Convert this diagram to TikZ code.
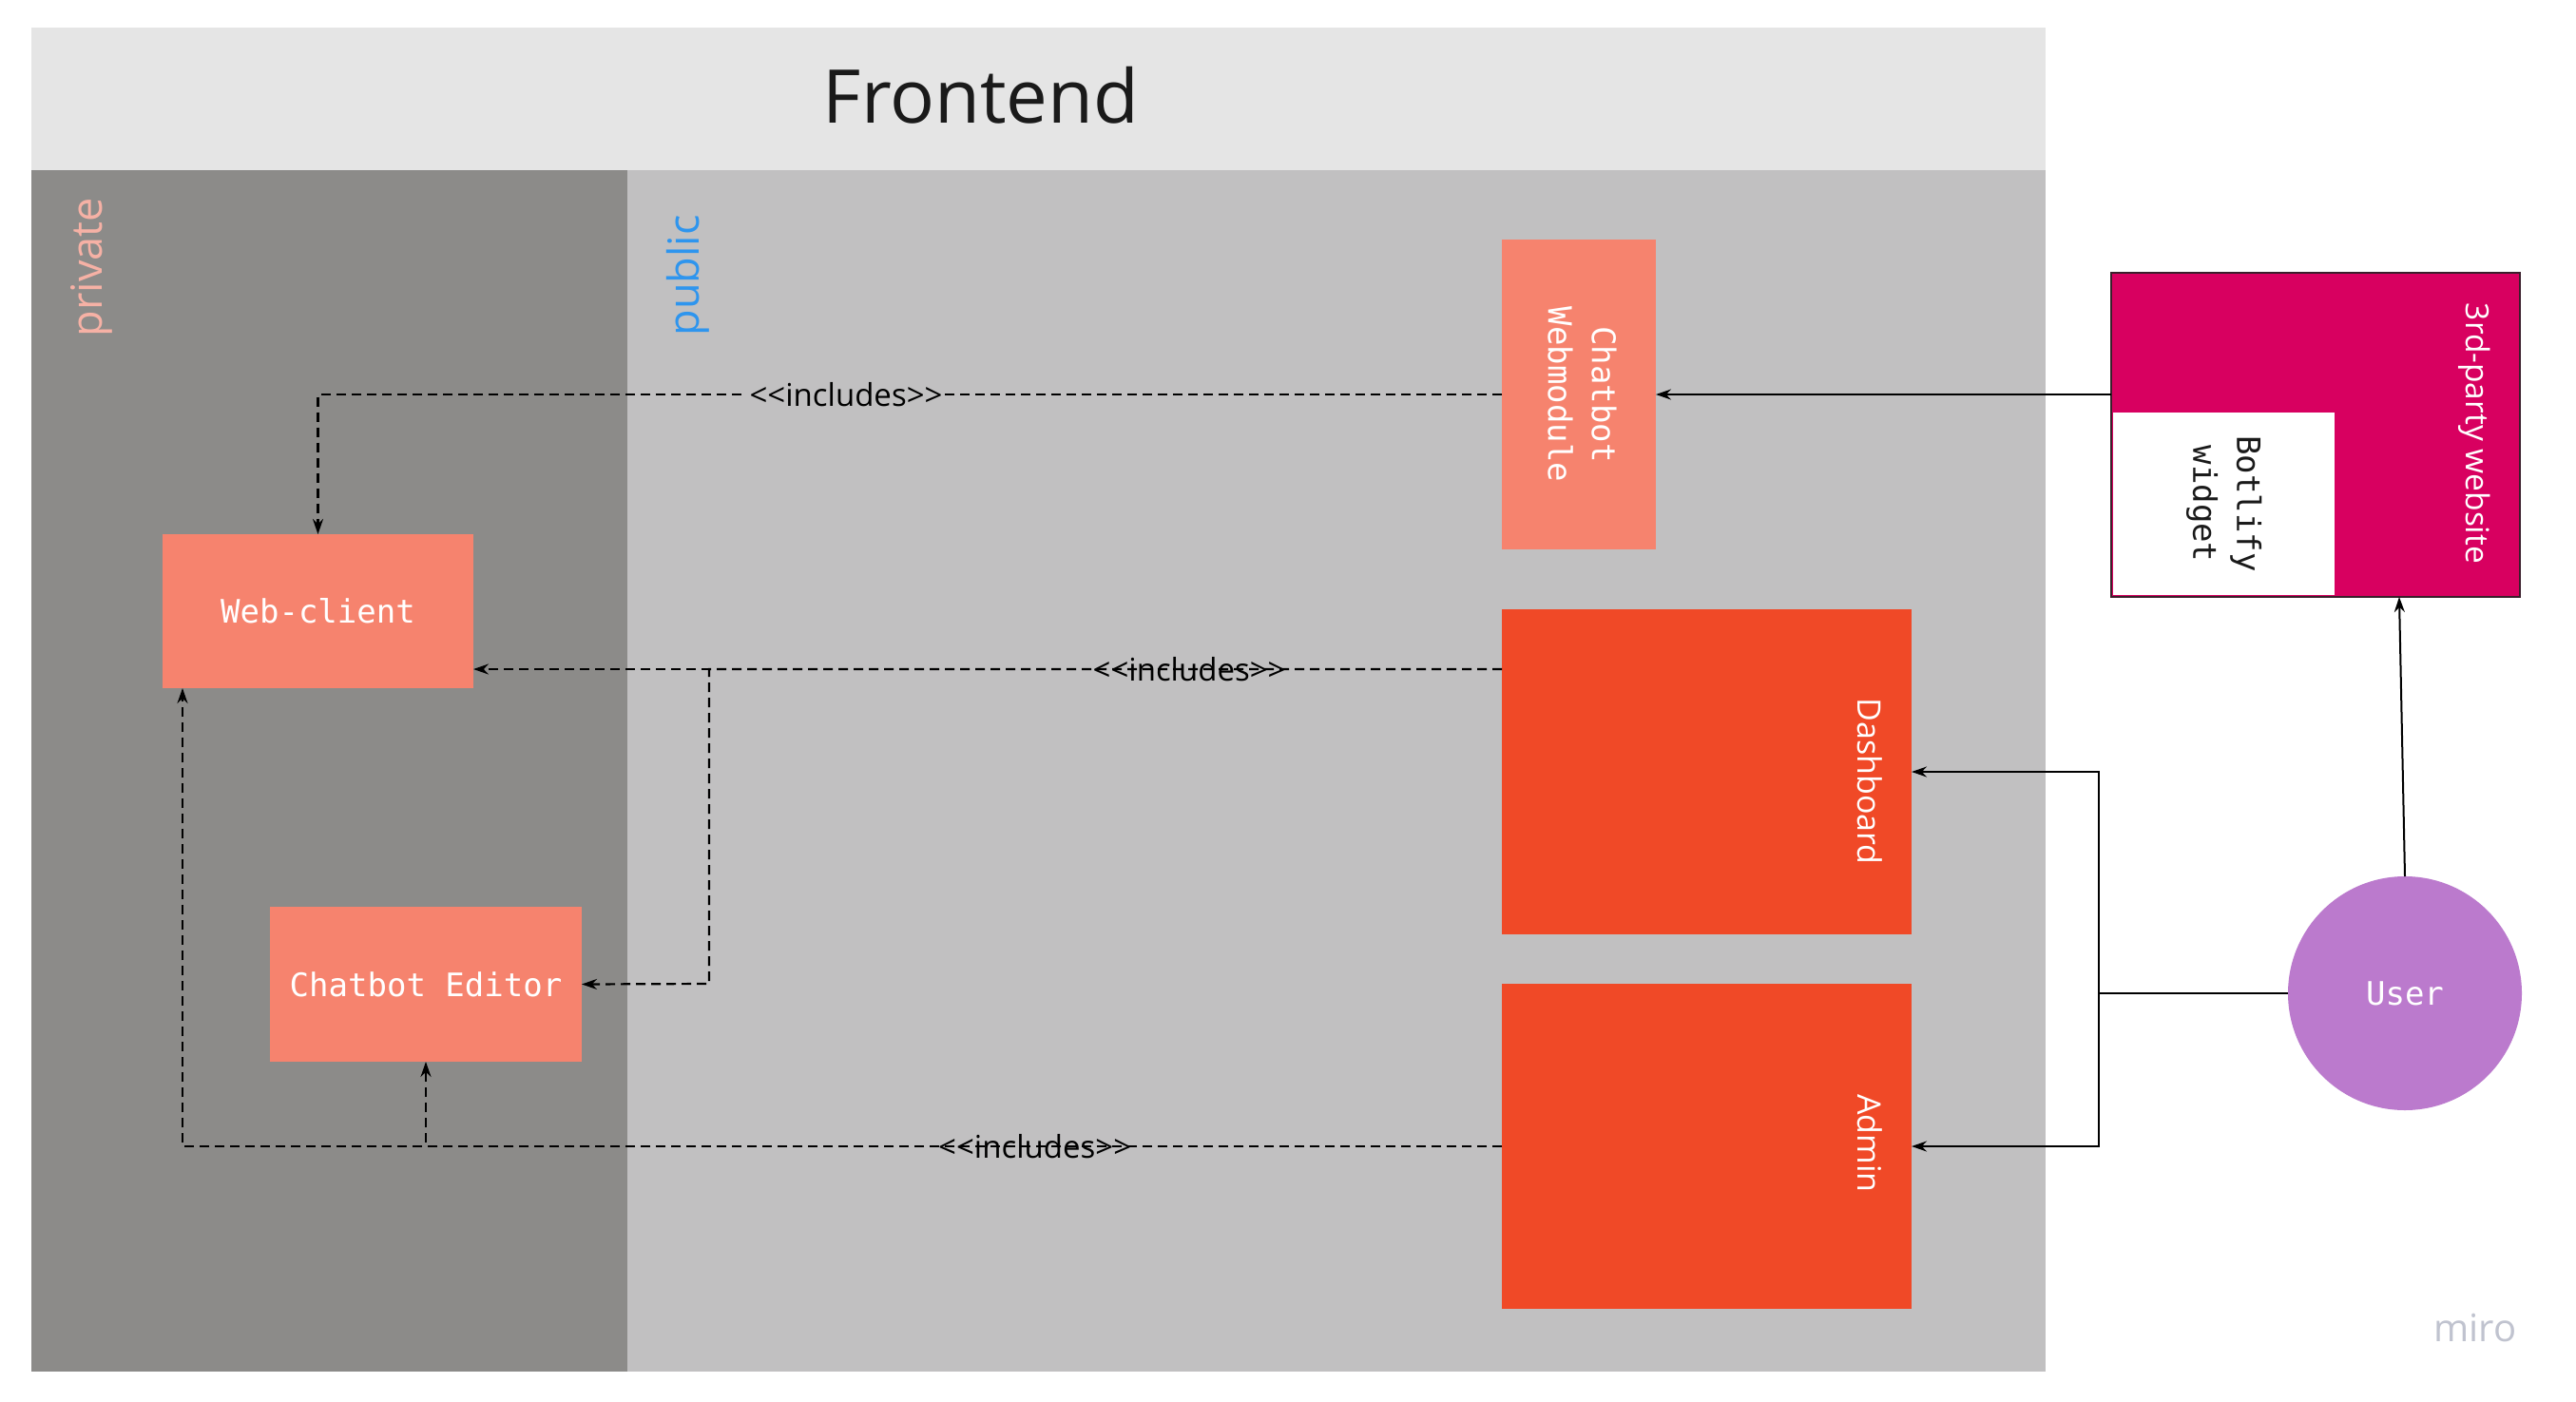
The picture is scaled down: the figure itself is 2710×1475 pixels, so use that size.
\documentclass[tikz,border=0pt]{standalone}
\usepackage{graphicx}
\usepackage{fontspec}
\setmainfont{Open Sans}
\newfontfamily\monof{DejaVu Sans Mono}
\usetikzlibrary{arrows.meta,calc}
\definecolor{hdr}{HTML}{E5E5E5}
\definecolor{priv}{HTML}{8C8B89}
\definecolor{pub}{HTML}{C1C0C1}
\definecolor{salmon}{HTML}{F6836E}
\definecolor{redor}{HTML}{F04927}
\definecolor{mag}{HTML}{D80060}
\definecolor{violet}{HTML}{BB7ACD}
\definecolor{privtxt}{HTML}{F6B1A5}
\definecolor{pubtxt}{HTML}{2E95EE}
\definecolor{mirog}{HTML}{C0C3CF}
\definecolor{ink}{HTML}{1A1A1A}
\definecolor{frame}{HTML}{3A1F2B}
\newcommand{\incltext}{<\kern0pt<includes>\kern0pt>}
\begin{document}
\begin{tikzpicture}[x=1pt,y=-1pt,
  area/.style={inner sep=0,outer sep=0,anchor=north west},
  box/.style={inner sep=0,outer sep=0,anchor=north west,text=white,
    font=\monof\fontsize{34}{46}\selectfont},
  rottext/.style={rotate=-90,inner sep=0,text=white,font=\fontsize{34}{40}\selectfont},
  incl/.style={dash pattern=on 10pt off 6pt,line width=2.2pt,
    -{Stealth[length=16pt,width=11pt]}},
  solidarrow/.style={line width=2pt,-{Stealth[length=16pt,width=11pt]}},
  lbl/.style={font=\fontsize{33}{36}\selectfont,inner sep=3pt,text=black}]
\useasboundingbox (0,0) rectangle (2710,1475);
\fill[white] (0,0) rectangle (2710,1475);
% panels
\node[area,fill=hdr,minimum width=2119pt,minimum height=150pt] (header) at (33,29) {};
\node[area,fill=priv,minimum width=627pt,minimum height=1264pt] (private) at (33,179) {};
\node[area,fill=pub,minimum width=1492pt,minimum height=1264pt] (public) at (660,179) {};
\node[font=\fontsize{78}{90}\selectfont,text=ink] (title) at (1032,100) {Frontend};
\node[rotate=90,inner sep=0,text=privtxt,font=\fontsize{45}{50}\selectfont] (privlbl) at (96,281) {private};
\node[rotate=90,inner sep=0,text=pubtxt,font=\fontsize{45}{50}\selectfont] (publbl) at (724,290) {public};
% boxes
\node[box,fill=salmon,minimum width=327pt,minimum height=162pt] (webclient) at (171,562) {Web-client};
\node[box,fill=salmon,minimum width=328pt,minimum height=163pt] (editor) at (284,954) {Chatbot Editor};
\node[box,fill=salmon,minimum width=162pt,minimum height=326pt] (webmodule) at (1580,252)
  {\rotatebox{-90}{\begin{tabular}{@{}c@{}}Chatbot\\Webmodule\end{tabular}}};
\node[box,fill=redor,minimum width=431pt,minimum height=342pt] (dashboard) at (1580,641) {};
\node[rottext] (dashtxt) at (1967,822) {Dashboard};
\node[box,fill=redor,minimum width=431pt,minimum height=342pt] (admin) at (1580,1035) {};
\node[rottext] (admintxt) at (1967,1203) {Admin};
% third party
\node[area,fill=mag,draw=frame,line width=2.5pt,minimum width=430pt,minimum height=341pt] (third) at (2221,287) {};
\node[box,fill=white,text=ink,minimum width=233pt,minimum height=192pt] (widget) at (2223,434)
  {\rotatebox{-90}{\begin{tabular}{@{}c@{}}Botlify\\widget\end{tabular}}};
\node[rottext,font=\fontsize{33.5}{40}\selectfont] (thirdtxt) at (2603,456) {3rd-party website};
% user
\node[circle,fill=violet,minimum size=246pt,inner sep=0,outer sep=0,text=white,
  font=\monof\fontsize{34}{40}\selectfont] (user) at (2530,1045) {User};
\node[text=mirog,font=\fontsize{40}{40}\selectfont] (miro) at (2604,1397) {miro};
% coordinates
\coordinate (dashW) at ([yshift=-63pt]dashboard.north west);
\coordinate (ebend) at (746,1035);
\coordinate (ujunc) at (2208,1045);
\coordinate (wcfoot) at ([xshift=21pt]webclient.south west);
% dashed includes
\draw[incl] (webmodule.west) -| (webclient.north)
  node[lbl,fill=pub,pos=0.277] {\incltext};
\draw[incl] (dashW) -- (dashW -| webclient.east) node[lbl,pos=0.304] {\incltext};
\draw[incl] (dashW) -| (ebend) -- (editor.east);
\draw[incl] (admin.west) -| (wcfoot) node[lbl,pos=0.177] {\incltext};
\draw[incl] (admin.west) -| (editor.south);
% solid
\draw[solidarrow] (third.west |- webmodule.east) -- (webmodule.east);
\draw[solidarrow] (user.west) -- (ujunc) |- (dashboard.east);
\draw[solidarrow] (user.west) -- (ujunc) |- (admin.east);
\draw[solidarrow] (user.north) -- ([xshift=88pt]third.south);
\end{tikzpicture}
\end{document}
